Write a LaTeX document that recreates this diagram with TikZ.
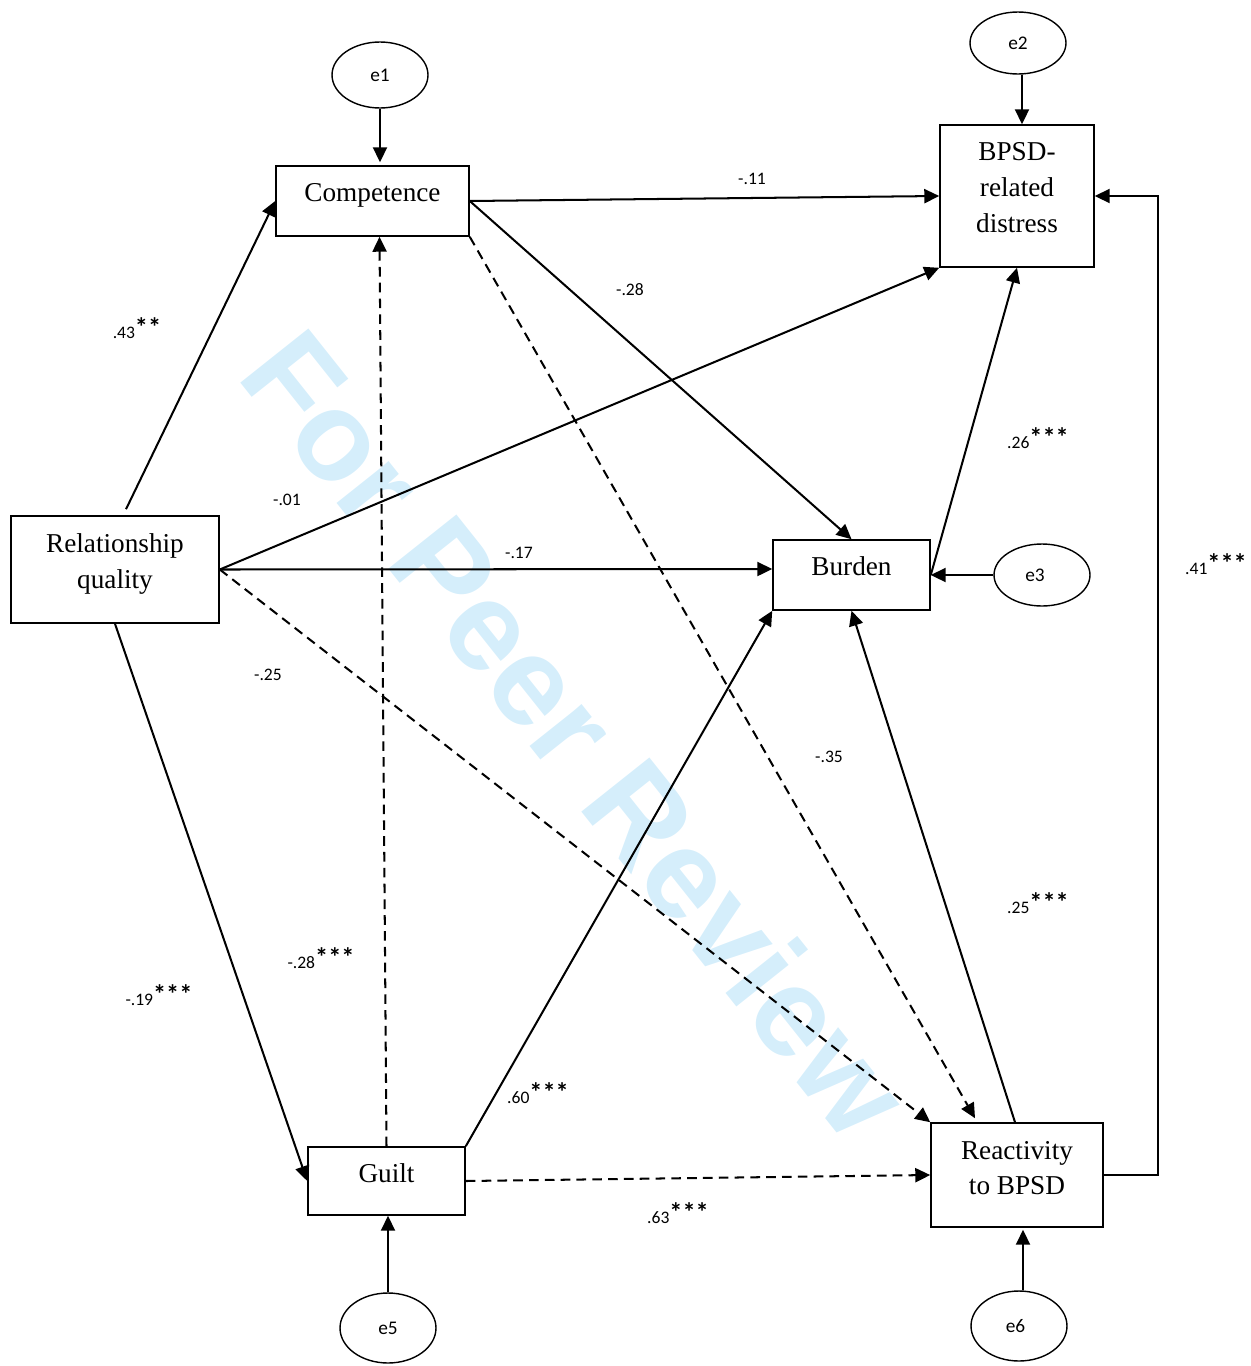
\documentclass[tikz,border=0pt]{standalone}
\usepackage{fontspec}
\setmainfont{Liberation Serif}
\newfontfamily\lblfont{Carlito}
\newfontfamily\wmfont{Liberation Sans}
\usetikzlibrary{shapes.geometric,arrows.meta,calc}
\definecolor{wm}{RGB}{213,238,251}
\newcommand\strs[1]{\raisebox{1.0pt}{\bfseries\fontsize{15}{15}\selectfont #1}}
\begin{document}
\begin{tikzpicture}[x=0.02cm,y=-0.02cm,
  box/.style={draw,line width=0.9pt,inner sep=0pt,align=center,text depth=10pt,font=\fontsize{15.5}{20.4}\selectfont},
  err/.style={draw,ellipse,line width=0.8pt,inner sep=0pt,minimum width=1.92cm,font=\lblfont\fontsize{11}{13}\selectfont},
  lbl/.style={inner sep=1pt,font=\lblfont\fontsize{10}{12}\selectfont},
  path/.style={line width=1.15pt,-{Triangle[length=8.5pt,width=8pt]}},
  dpath/.style={path,dash pattern=on 5.5pt off 3.5pt}]
\useasboundingbox (0,0) rectangle (1251,1366);
% watermark
\node[wm, rotate=-51.5, font=\wmfont\bfseries\fontsize{72}{72}\selectfont, inner sep=0pt] (wmark) at (577,733) {For Peer Review};
% boxes
\node[box,minimum width=3.86cm,minimum height=1.40cm] (comp) at (372.5,201) {Competence};
\node[box,minimum width=3.08cm,minimum height=2.84cm] (bpsd) at (1017,196) {BPSD-\\related\\distress};
\node[box,minimum width=4.16cm,minimum height=2.14cm] (rq) at (115,569.5) {Relationship\\quality};
\node[box,minimum width=3.14cm,minimum height=1.40cm] (burden) at (851.5,575) {Burden};
\node[box,minimum width=3.14cm,minimum height=1.36cm,text depth=9pt] (guilt) at (386.5,1181) {Guilt};
\node[box,minimum width=3.44cm,minimum height=2.08cm,text depth=8pt] (react) at (1017,1175) {Reactivity\\to BPSD};
% error terms
\node[err,minimum height=1.32cm] (e1) at (380,75) {e1};
\node[err,minimum height=1.24cm] (e2) at (1018,43) {e2};
\node[err,minimum height=1.24cm] (e3) at (1042,575) {\hspace*{-8pt}e3};
\node[err,minimum height=1.40cm] (e5) at (388,1328) {e5};
\node[err,minimum height=1.40cm] (e6) at (1019,1326) {\hspace*{-4pt}e6};
% error arrows
\draw[path] (e1.south) -- ($(e1.south |- comp.north)+(0,-3)$);
\draw[path] ($(e2.south)+(4,0)$) -- ($(e2.south |- bpsd.north)+(4,0)$);
\draw[path] (e3.west) -- (e3.west -| burden.east);
\draw[path] (e5.north) -- (e5.north |- guilt.south);
\draw[path] ($(e6.north)+(4,0)$) -- ($(e6.north |- react.south)+(4,2)$);
% structural paths
\draw[path] ($(rq.north)+(11,-6)$) -- (comp.west);
\draw[path] (comp.east) -- (bpsd.west);
\draw[path] (comp.east) -- (burden.north);
\draw[dpath] (comp.south east) -- ($(react.north)+(-42,-4)$);
\draw[path] (rq.east) -- (bpsd.south west);
\draw[path] (rq.east) -- ($(burden.west)+(0,-6)$);
\draw[dpath] (rq.east) -- (react.north west);
\draw[path] (rq.south) -- (guilt.west);
\draw[dpath] (guilt.north) -- ($(comp.south)+(7,0)$);
\draw[path] (guilt.north east) -- (burden.south west);
\draw[dpath] (guilt.east) -- (react.west);
\draw[path] (burden.east) -- (bpsd.south);
\draw[path] ($(react.north)+(-2,0)$) -- (burden.south);
\coordinate (fb) at ($(bpsd.east)+(63,0)$);
\draw[path] (react.east) -| (fb) -- (bpsd.east);
% labels
\node[lbl] (l1) at (137,328) {.43\strs{**}};
\node[lbl] (l2) at (752,179) {-.11};
\node[lbl] (l3) at (630,290) {-.28};
\node[lbl] (l4) at (287,500) {-.01};
\node[lbl] (l5) at (519,553) {-.17};
\node[lbl] (l6) at (268,675) {-.25};
\node[lbl] (l7) at (829,757) {-.35};
\node[lbl] (l8) at (1038,438) {.26\strs{***}};
\node[lbl] (l9) at (1216,564) {.41\strs{***}};
\node[lbl] (l10) at (1038,903) {.25\strs{***}};
\node[lbl] (l11) at (321,958) {-.28\strs{***}};
\node[lbl] (l12) at (159,995) {-.19\strs{***}};
\node[lbl] (l13) at (538,1093) {.60\strs{***}};
\node[lbl] (l14) at (678,1213) {.63\strs{***}};
\end{tikzpicture}
\end{document}
